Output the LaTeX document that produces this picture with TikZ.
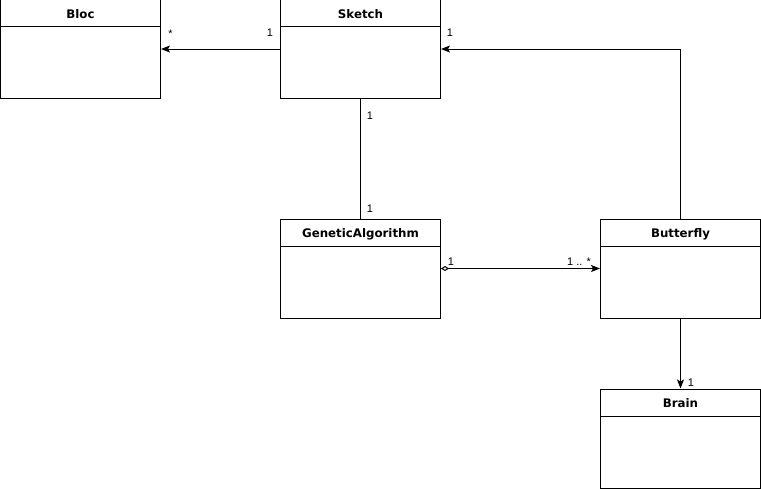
\documentclass[tikz,border=0pt]{standalone}
\usepackage{fontspec}
\setmainfont{Liberation Sans}
\newfontfamily\headfont{DejaVu Sans}
\usetikzlibrary{shapes,arrows.meta,positioning}
\tikzstyle{classbox} = [rectangle split, rectangle split parts=2, draw,
    line width=1pt, inner sep=0pt]
\tikzstyle{mult} = [font=\fontsize{11}{13}\selectfont, inner sep=0pt, anchor=base]
\tikzstyle{line} = [draw, line width=1pt, -{Stealth[length=9pt,width=7pt,inset=2pt]}]
\newcommand{\classhead}[1]{\parbox[c][26pt][c]{160pt}{\centering\headfont\bfseries\fontsize{11.8}{13}\selectfont\raisebox{-5pt}[0pt][0pt]{#1}}}
\newcommand{\classbody}{\parbox[c][71pt]{160pt}{}}

\begin{document}
\begin{tikzpicture}[x=1pt, y=-1pt, node distance=280pt]
    \useasboundingbox (0,0) rectangle (761,488);
    % Place nodes
    \node [classbox] (bloc) at (80.5,49) {\classhead{Bloc}\nodepart{two}\classbody};
    \node [classbox, right of=bloc] (sketch) {\classhead{Sketch}\nodepart{two}\classbody};
    \node [classbox, below of=sketch, node distance=219.5pt] (ga) {\classhead{GeneticAlgorithm}\nodepart{two}\classbody};
    \node [classbox, right of=ga, node distance=320pt] (butterfly) {\classhead{Butterfly}\nodepart{two}\classbody};
    \node [classbox, below of=butterfly, node distance=170pt] (brain) {\classhead{Brain}\nodepart{two}\classbody};
    % the multiplicities
    \node [mult] (m-bloc) at (170.5,37) {*};
    \node [mult] (m-sketch-l) at (270,36) {1};
    \node [mult] (m-sketch-r) at (450,36) {1};
    \node [mult] (m-sketch-b) at (370,119) {1};
    \node [mult] (m-ga-t) at (370,212) {1};
    \node [mult] (m-ga-r) at (451,265) {1};
    \node [mult] (m-butterfly) at (579,265) {1 .. *};
    \node [mult] (m-brain) at (691,386) {1};
    % Draw edges
    \path [line] (sketch) -- (bloc);
    \path [line] (butterfly.north) |- (sketch.east);
    \path [draw, line width=1pt] (sketch.south) -- (ga.north);
    \path [line, {Diamond[open,length=8pt,width=5pt]}-{Stealth[length=9pt,width=7pt,inset=2pt]}] (ga) -- (butterfly);
    \path [line] (butterfly) -- (brain);

\end{tikzpicture}
\end{document}
